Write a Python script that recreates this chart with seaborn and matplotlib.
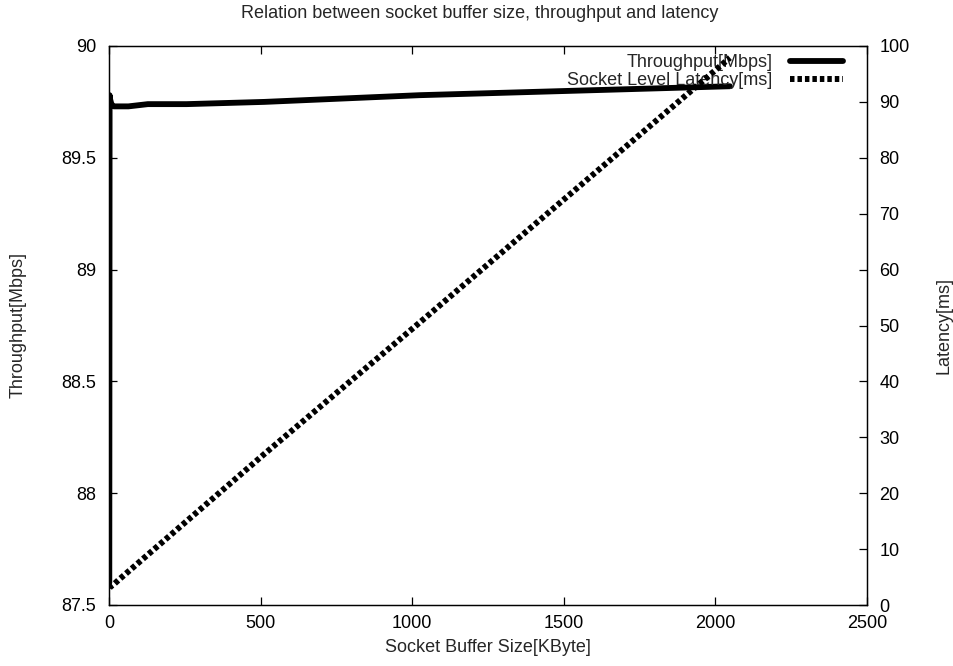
import matplotlib
matplotlib.use("Agg")
import matplotlib.pyplot as plt
import seaborn as sns
import pandas as pd

# Data
buffer_kb = [1, 2, 4, 8, 16, 32, 64, 128, 256, 512, 1024, 2048]
throughput_mbps = [87.6, 89.78, 89.76, 89.74, 89.73, 89.73, 89.73, 89.74, 89.74, 89.75, 89.78, 89.82]
latency_ms = [3.0, 3.1, 3.2, 3.4, 3.7, 4.5, 6.0, 9.0, 15.0, 27.0, 50.5, 97.9]

title = "Relation between socket buffer size, throughput and latency"
xlabel = "Socket Buffer Size[KByte]"
ylabel_left = "Throughput[Mbps]"
ylabel_right = "Latency[ms]"
label_tp = "Throughput[Mbps]"
label_lat = "Socket Level Latency[ms]"
xticks = [0, 500, 1000, 1500, 2000, 2500]
yticks_left = [87.5, 88, 88.5, 89, 89.5, 90]
ytick_left_labels = ["87.5", "88", "88.5", "89", "89.5", "90"]
yticks_right = [0, 10, 20, 30, 40, 50, 60, 70, 80, 90, 100]

df = pd.DataFrame({"size": buffer_kb, "tp": throughput_mbps, "lat": latency_ms})

FS = 13
sns.set_style("white")
plt.rcParams["font.family"] = ["Liberation Sans", "DejaVu Sans"]
plt.rcParams["font.size"] = FS

W, H = 954, 666
fig = plt.figure(figsize=(W / 100, H / 100), dpi=100)
ax = fig.add_axes([109 / W, 1 - 605 / H, (867 - 109) / W, (605 - 46) / H])
ax2 = ax.twinx()

sns.lineplot(data=df, x="size", y="tp", ax=ax, color="black", linewidth=4.2,
             label=label_tp, legend=False)
sns.lineplot(data=df, x="size", y="lat", ax=ax2, color="black", linewidth=4.3,
             label=label_lat, legend=False)
l2 = ax2.get_lines()[0]
l2.set_dashes((0.75, 0.5))
l2.set_dash_capstyle("butt")

ax.set_xlim(0, 2500)
ax.set_ylim(87.5, 90)
ax2.set_ylim(0, 100)
ax.set_xticks(xticks)
ax.set_xticklabels([str(v) for v in xticks])
ax.set_yticks(yticks_left)
ax.set_yticklabels(ytick_left_labels)
ax2.set_yticks(yticks_right)

for a in (ax, ax2):
    for s in a.spines.values():
        s.set_color("black")
        s.set_linewidth(0.9)
        s.set_visible(True)

ax.tick_params(axis="x", direction="in", length=6, width=0.9, top=True, bottom=True,
               labelsize=FS, pad=7, colors="black")
ax.tick_params(axis="y", direction="in", length=6, width=0.9, left=True, right=False,
               labelsize=FS, pad=9, colors="black")
ax2.tick_params(axis="y", direction="in", length=6, width=0.9, right=True, left=False,
                labelsize=FS, pad=9, colors="black")

ax.set_xlabel("")
ax.set_ylabel("")
ax2.set_ylabel("")
fig.text(488 / W, 1 - 648 / H, xlabel, ha="center", va="center", fontsize=FS)
fig.text(18 / W, 1 - 325 / H, ylabel_left, rotation=90, ha="center", va="center", fontsize=FS)
fig.text(944 / W, 1 - 325 / H, ylabel_right, rotation=90, ha="center", va="center", fontsize=FS)
fig.text(480 / W, 1 - 14 / H, title, ha="center", va="center", fontsize=FS)

h1 = ax.get_lines()[0]
leg = ax.legend([h1, l2], [label_tp, label_lat], loc="upper right",
                bbox_to_anchor=(843 / W, 1 - 54 / H), bbox_transform=fig.transFigure,
                frameon=False, markerfirst=False, borderpad=0, borderaxespad=0,
                handlelength=2.95, handletextpad=0.95, labelspacing=0.05, fontsize=FS)

fig.savefig("out.png", dpi=100)
